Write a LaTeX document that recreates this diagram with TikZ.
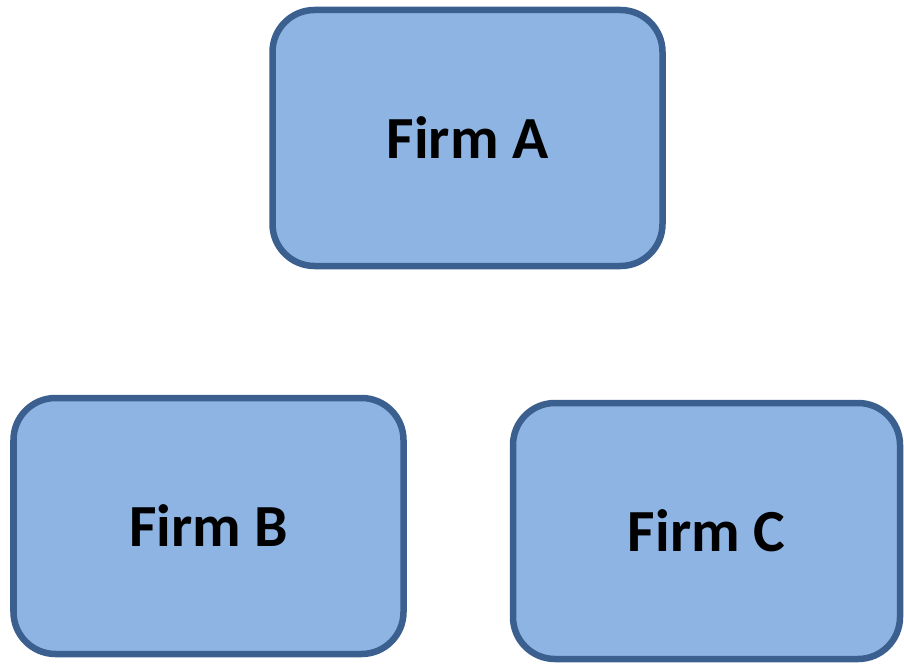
\documentclass[tikz,border=0pt]{standalone}
\usepackage{fontspec}
\setmainfont{Carlito}
\definecolor{firmfill}{HTML}{8EB4E3}
\definecolor{firmline}{HTML}{3B5F8E}
\begin{document}
\begin{tikzpicture}
	\tikzset{firm/.style = {shape=rectangle,draw=firmline,fill=firmfill,line width=0.13cm,rounded corners=0.84cm,minimum width=7.8cm,minimum height=5.12cm,font=\fontsize{34}{40}\selectfont\bfseries}}
	\useasboundingbox (0,0) rectangle (18.08,-13.28);
	\node[firm] (a) at (9.35,-2.76) {Firm A};
	\node[firm] (b) at (4.17,-10.52) {Firm B};
	\node[firm,minimum width=7.74cm] (c) at (14.13,-10.62) {Firm C};
\end{tikzpicture}
\end{document}
